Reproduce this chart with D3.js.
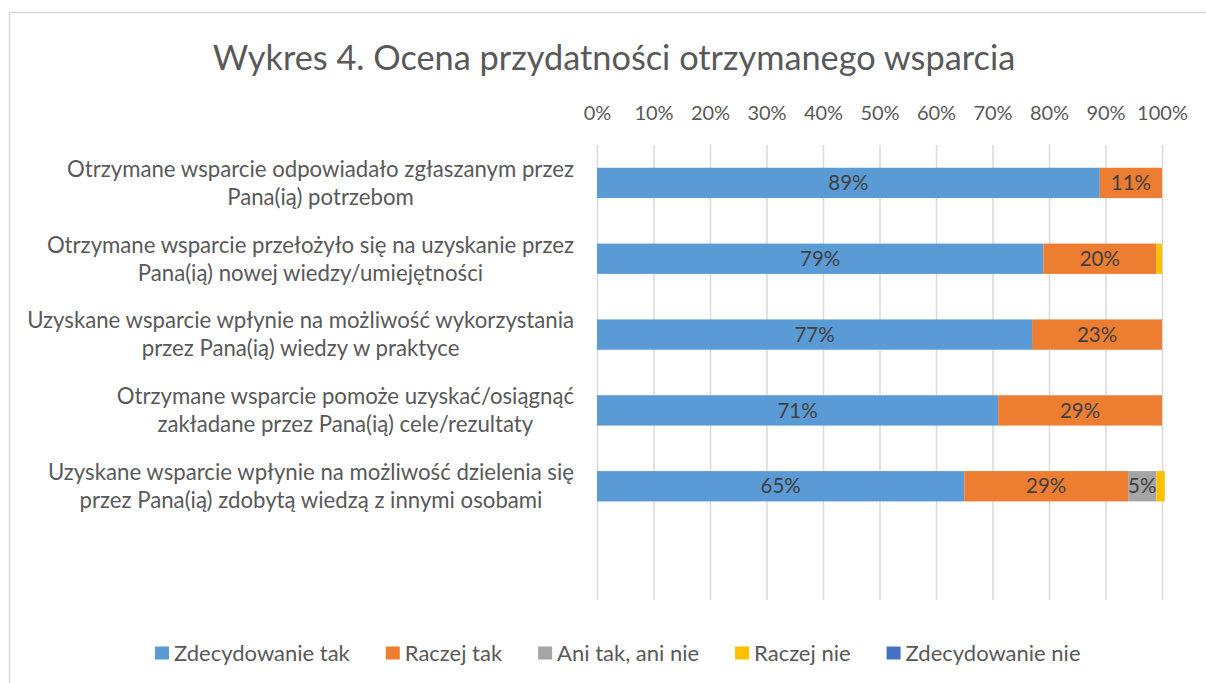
<!DOCTYPE html>
<html>
<head>
<meta charset="utf-8">
<script src="https://cdn.jsdelivr.net/npm/d3@7"></script>
<style>
  body { margin: 0; background: #fff; }
  text { font-family: Lato, "Open Sans", sans-serif; fill: #595959; }
</style>
</head>
<body>
<div id="chart"></div>
<script>
// chart size
var w = 1206;
var h = 683;

var title = "Wykres 4. Ocena przydatności otrzymanego wsparcia";

// categories, two lines each
var categories = [
    "Otrzymane wsparcie odpowiadało zgłaszanym przez\nPana(ią) potrzebom",
    "Otrzymane wsparcie przełożyło się na uzyskanie przez\nPana(ią) nowej wiedzy/umiejętności",
    "Uzyskane wsparcie wpłynie na możliwość wykorzystania\nprzez Pana(ią) wiedzy w praktyce",
    "Otrzymane wsparcie pomoże uzyskać/osiągnąć\nzakładane przez Pana(ią) cele/rezultaty",
    "Uzyskane wsparcie wpłynie na możliwość dzielenia się\nprzez Pana(ią) zdobytą wiedzą z innymi osobami"
];

var seriesNames = ["Zdecydowanie tak", "Raczej tak", "Ani tak, ani nie", "Raczej nie", "Zdecydowanie nie"];
var seriesColors = ["#5B9BD5", "#ED7D31", "#A5A5A5", "#FFC000", "#4472C4"];

// values per series (share), one per category
var zdecydowanieTak = [0.89, 0.79, 0.77, 0.71, 0.65];
var raczejTak       = [0.11, 0.20, 0.23, 0.29, 0.29];
var aniTakAniNie    = [0.00, 0.00, 0.00, 0.00, 0.05];
var raczejNie       = [0.00, 0.01, 0.00, 0.00, 0.015];
var zdecydowanieNie = [0.00, 0.00, 0.00, 0.00, 0.00];

var tickValues = [0, 0.1, 0.2, 0.3, 0.4, 0.5, 0.6, 0.7, 0.8, 0.9, 1];

var series = [zdecydowanieTak, raczejTak, aniTakAniNie, raczejNie, zdecydowanieNie];

var svg = d3.select("#chart")
    .append("svg")
    .attr("width", w)
    .attr("height", h);

// frame
svg.append("rect")
    .attr("x", 9.5)
    .attr("y", 12.5)
    .attr("width", w + 20)
    .attr("height", h + 20)
    .attr("fill", "none")
    .attr("stroke", "#d9d9d9")
    .attr("stroke-width", 1.5);

// title
svg.append("text")
    .attr("x", 614)
    .attr("y", 70)
    .attr("text-anchor", "middle")
    .style("font-size", "34.3px")
    .text(title);

// scales
var plotTop = 145, plotBottom = 600;
var xScale = d3.scaleLinear()
    .domain([0, 1])
    .range([597, 1162]);

// one extra empty band at the bottom, as in the original
var yScale = d3.scaleBand()
    .domain(d3.range(categories.length + 1))
    .range([plotTop, plotBottom])
    .paddingInner(0.6)
    .paddingOuter(0.3);

// gridlines
var grid = svg.append("g")
    .attr("transform", "translate(0," + plotTop + ")")
    .call(d3.axisTop(xScale).tickValues(tickValues).tickSize(-(plotBottom - plotTop)).tickFormat(""));
grid.select(".domain").remove();
grid.selectAll("line").attr("stroke", "#d9d9d9").attr("stroke-width", 1.5);

// x axis labels on top
var xAxis = svg.append("g")
    .attr("transform", "translate(0," + plotTop + ")")
    .call(d3.axisTop(xScale).tickValues(tickValues).tickSize(0).tickPadding(25).tickFormat(d3.format(".0%")));
xAxis.select(".domain").remove();
xAxis.selectAll("text")
    .style("font-family", "Lato, sans-serif")
    .style("font-size", "20px")
    .attr("fill", "#595959");

// stacked data
var rows = categories.map(function(c, i) {
    var x0 = 0;
    return series.map(function(s, k) {
        var seg = {row: i, k: k, v: s[i], x0: x0, x1: x0 + s[i]};
        x0 += s[i];
        return seg;
    });
});
var segs = [].concat.apply([], rows).filter(function(d) { return d.v > 0; });

svg.selectAll("rect.bar")
    .data(segs)
    .enter()
    .append("rect")
    .attr("class", "bar")
    .attr("x", function(d) { return xScale(d.x0); })
    .attr("y", function(d) { return yScale(d.row); })
    .attr("width", function(d) { return xScale(d.x1) - xScale(d.x0); })
    .attr("height", yScale.bandwidth())
    .attr("fill", function(d) { return seriesColors[d.k]; });

// value labels
svg.selectAll("text.val")
    .data(segs.filter(function(d) { return d.v >= 0.03; }))
    .enter()
    .append("text")
    .attr("class", "val")
    .attr("x", function(d) { return (xScale(d.x0) + xScale(d.x1)) / 2; })
    .attr("y", function(d) { return yScale(d.row) + yScale.bandwidth() / 2; })
    .attr("dy", "0.35em")
    .attr("text-anchor", "middle")
    .style("font-size", "20.5px")
    .style("fill", "#404040")
    .text(function(d) { return Math.round(d.v * 100) + "%"; });

// category labels: lines centred to each other, block right aligned
var labelRight = 574;
categories.forEach(function(c, i) {
    var lines = c.split("\n");
    var cy = yScale(i) + yScale.bandwidth() / 2;
    var t = svg.append("text")
        .attr("text-anchor", "middle")
        .style("font-size", "22.2px");
    lines.forEach(function(l, j) {
        t.append("tspan")
            .attr("y", cy + (j - (lines.length - 1) / 2) * 28)
            .attr("dy", "0.35em")
            .text(l);
    });
    var maxW = 0;
    t.selectAll("tspan").each(function() {
        maxW = Math.max(maxW, this.getComputedTextLength());
    });
    t.selectAll("tspan").attr("x", labelRight - maxW / 2);
});

// legend
var legend = svg.append("g");
var lx = 155, ly = 653;
seriesNames.forEach(function(name, k) {
    legend.append("rect")
        .attr("x", lx)
        .attr("y", ly - 6.5)
        .attr("width", 14)
        .attr("height", 13)
        .attr("fill", seriesColors[k]);
    var t = legend.append("text")
        .attr("x", lx + 19)
        .attr("y", ly)
        .attr("dy", "0.35em")
        .style("font-size", "22px")
        .text(name);
    lx += 19 + t.node().getComputedTextLength() + 36;
});
</script>
</body>
</html>
